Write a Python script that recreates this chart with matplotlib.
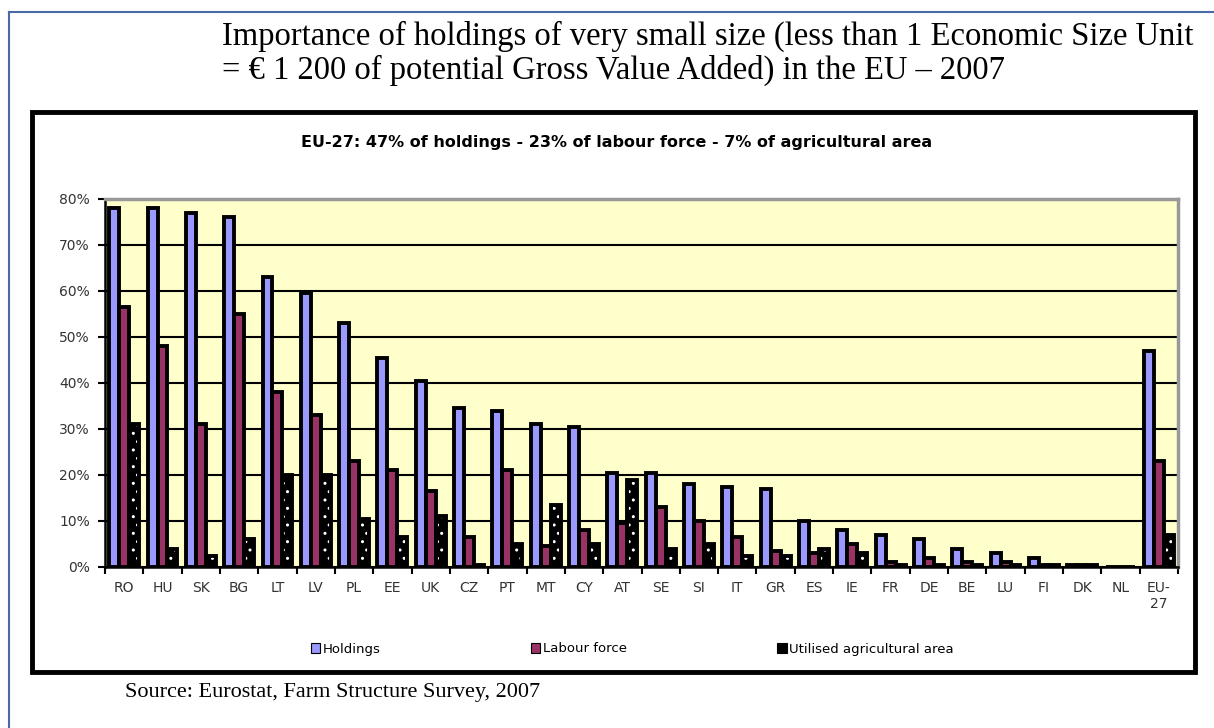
import matplotlib.pyplot as plt
import matplotlib.patches as mpatches
from matplotlib.lines import Line2D
import numpy as np

# DATA
countries = ['RO', 'HU', 'SK', 'BG', 'LT', 'LV', 'PL', 'EE', 'UK', 'CZ', 'PT', 'MT', 'CY', 'AT',
             'SE', 'SI', 'IT', 'GR', 'ES', 'IE', 'FR', 'DE', 'BE', 'LU', 'FI', 'DK', 'NL', 'EU-\n27']
holdings = [78, 78, 77, 76, 63, 59.5, 53, 45.5, 40.5, 34.5, 34, 31, 30.5, 20.5,
            20.5, 18, 17.5, 17, 10, 8, 7, 6, 4, 3, 2, 0.5, 0, 47]
labour = [56.5, 48, 31, 55, 38, 33, 23, 21, 16.5, 6.5, 21, 4.5, 8, 9.5,
          13, 10, 6.5, 3.5, 3, 5, 1, 2, 1, 1, 0.5, 0.5, 0, 23]
uaa = [31, 4, 2.5, 6, 20, 20, 10.5, 6.5, 11, 0.5, 5, 13.5, 5, 19,
       4, 5, 2.5, 2.5, 4, 3, 0.5, 0.5, 0.5, 0.5, 0.5, 0.5, 0, 7]
yticks = [0, 10, 20, 30, 40, 50, 60, 70, 80]

main_title = ("Importance of holdings of very small size (less than 1 Economic Size Unit\n"
              "= \u20ac 1 200 of potential Gross Value Added) in the EU \u2013 2007")
chart_title = "EU-27: 47% of holdings - 23% of labour force - 7% of agricultural area"
source = "Source: Eurostat, Farm Structure Survey, 2007"

plt.rcParams['font.family'] = ['DejaVu Sans']

fig = plt.figure(figsize=(12.14, 7.28), dpi=100)

# outer page frame (blue) and chart box (black)
fig.add_artist(Line2D([9/1214, 9/1214], [0, 1 - 12/728], color='#4a6aa5', lw=1.5))
fig.add_artist(Line2D([9/1214, 1], [1 - 12/728, 1 - 12/728], color='#4a6aa5', lw=1.5))
fig.add_artist(mpatches.Rectangle((32/1214, 1 - 672/728), 1163/1214, 560/728,
                                  transform=fig.transFigure, fill=False,
                                  edgecolor='black', lw=3.5))

fig.text(222/1214, 1 - 53/728, main_title, family='Liberation Serif', fontsize=23.5,
         va='center', ha='left', linespacing=1.12)
fig.text(617/1214, 1 - 142/728, chart_title, fontsize=11.5, fontweight='bold',
         ha='center', va='center')
fig.text(125/1214, 1 - 692/728, source, family='Liberation Serif', fontsize=16,
         ha='left', va='center')

ax = fig.add_axes([105/1214, 1 - 567/728, (1178 - 105)/1214, (567 - 199)/728])
ax.set_facecolor('#ffffcc')

x = np.arange(len(countries)) + 0.5
w = 0.26
ax.yaxis.grid(True, color='black', lw=1.5)
ax.set_axisbelow(True)

ax.bar(x - w, holdings, w, color='#9999ff', edgecolor='black', lw=2.8, zorder=3)
ax.bar(x, labour, w, color='#993366', edgecolor='black', lw=2.8, zorder=3)
# dotted black bars: white dot hatch then black outline
ax.bar(x + w, uaa, w, color='black', edgecolor='white', hatch='..', lw=0, zorder=3)
ax.bar(x + w, uaa, w, color='none', edgecolor='black', lw=2.8, zorder=4)

ax.set_xlim(0, len(countries))
ax.set_ylim(0, 80)
ax.set_yticks(yticks)
ax.set_yticklabels([f'{v}%' for v in yticks], fontsize=10, color='#333333')
ax.set_xticks(np.arange(len(countries) + 1))
ax.set_xticklabels([])
ax.set_xticks(x, minor=True)
ax.set_xticklabels(countries, minor=True, fontsize=10, color='#333333', va='top')
ax.tick_params(axis='x', which='minor', length=0, pad=10)
ax.tick_params(axis='x', which='major', length=5, width=1.5, direction='out')
ax.tick_params(axis='y', length=5, width=1.5, direction='out', pad=6)

for s in ['top', 'right']:
    ax.spines[s].set_color('#999999')
    ax.spines[s].set_linewidth(2.5)
for s in ['left', 'bottom']:
    ax.spines[s].set_color('black')
    ax.spines[s].set_linewidth(1.8)

h1 = mpatches.Patch(facecolor='#9999ff', edgecolor='black', lw=0.8)
h2 = mpatches.Patch(facecolor='#993366', edgecolor='black', lw=0.8)
h3 = mpatches.Patch(facecolor='black', edgecolor='black', lw=0.8)
fig.legend([h1, h2, h3], ['Holdings', 'Labour force', 'Utilised agricultural area'],
           loc='center left', bbox_to_anchor=(311/1214, 1 - 649/728), ncol=3,
           frameon=False, fontsize=9.5, handlelength=0.7, handleheight=0.7,
           handletextpad=0.2, columnspacing=11.4, borderaxespad=0, borderpad=0)

fig.savefig('out.png', dpi=100)
